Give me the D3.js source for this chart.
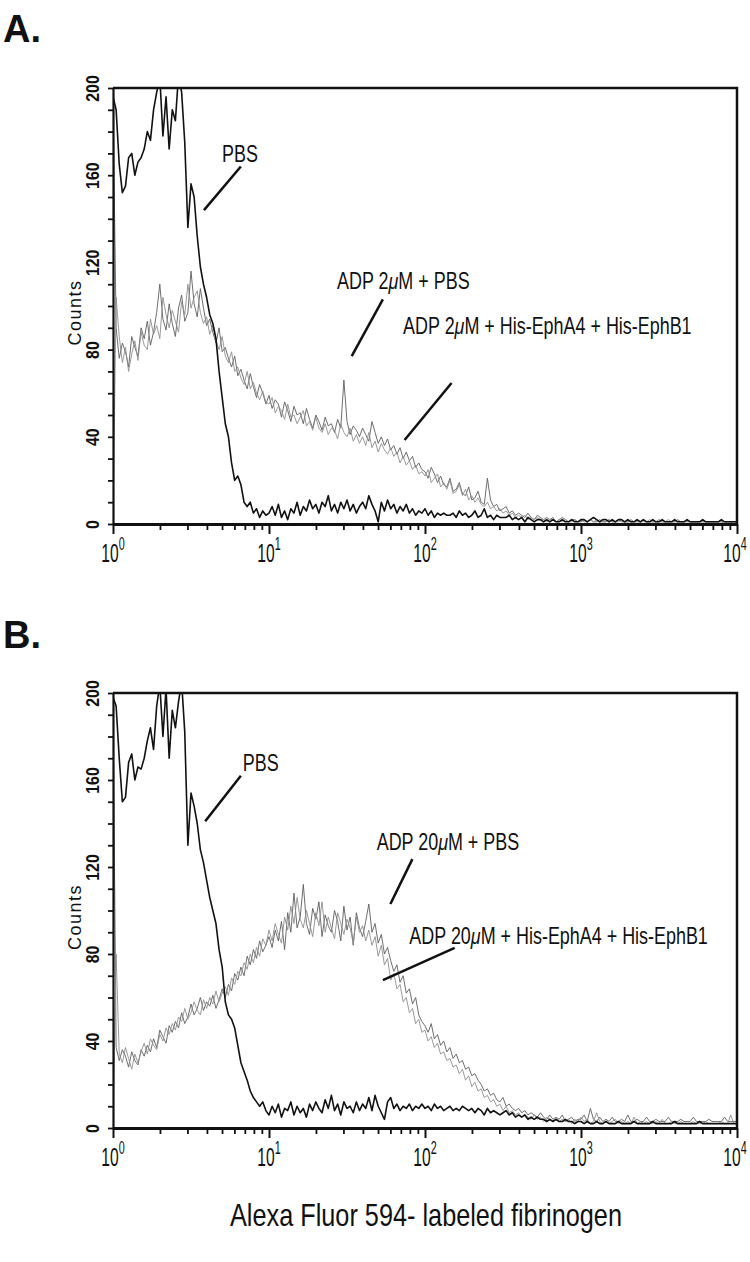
<!DOCTYPE html>
<html>
<head>
<meta charset="utf-8" />
<title>Fibrinogen binding histograms</title>
<script src="https://d3js.org/d3.v7.min.js"></script>
<style>
  body { margin: 0; background: #fff; }
  svg text { font-family: "Liberation Sans", Arial, sans-serif; fill: #111; }
</style>
</head>
<body>
<svg id="svg1" width="750" height="1262"></svg>
<script>
// histogram channels: one value every 0.02 decade, from 10^0 to 10^4
var logStep = 0.02;
var yTicks = d3.range(0, 201, 10);
var yLabels = [0, 40, 80, 120, 160, 200];
var decades = [1, 10, 100, 1000, 10000];

// panel A
var aPBS = [196,190,165,152,155,168,170,160,166,168, 172,180,176,190,198,205,178,196,172,190,
  185,206,198,175,136,156,150,132,118,110, 104,96,92,85,70,58,46,40,28,20,
  22,18,10,8,10,5,7,3,6,4,
  5,8,4,9,3,6,2,7,5,10, 4,8,6,11,7,9,5,10,8,13, 6,9,5,10,7,11,6,9,5,8,
  10,7,13,9,6,1,10,6,11,7, 9,5,8,6,9,5,7,4,6,5,
  7,4,6,3,5,4,5,4,4,5, 3,6,4,5,3,4,6,3,4,7, 3,4,2,4,3,3,3,4,2,3,
  2,3,1,3,2,1,2,2,1,2, 1,2,1,1,2,1,1,2,1,1,
  2,2,1,2,3,2,1,2,2,1, 2,1,2,2,1,2,1,1,2,1, 2,1,1,2,1,1,2,1,1,1,
  2,1,1,1,2,1,1,1,1,2, 1,1,1,1,1,2,1,1,1,1, 1];
var aADP = [196,90,76,83,79,72,86,81,77,90, 85,93,82,88,97,110,94,89,101,92,
  86,99,105,93,97,116,101,95,108,99, 91,94,88,83,90,79,81,76,72,77,
  68,71,66,62,69,63,58,64,60,55,
  59,53,57,55,49,56,52,47,54,50, 51,46,53,48,44,50,47,43,49,45, 46,42,48,44,66,47,41,45,43,40,
  44,41,38,47,42,37,40,36,39,34, 36,32,35,30,33,29,31,26,28,25,
  24,21,26,23,19,22,18,17,21,15, 16,19,14,13,17,11,12,15,10,9, 21,11,8,9,6,7,8,5,6,4,
  5,4,3,5,3,2,4,3,2,3, 2,3,1,2,3,2,1,2,2,1,
  1,2,1,2,1,1,2,1,1,2, 1,1,2,1,1,1,2,1,1,1, 2,1,1,1,1,2,1,1,1,1,
  1,2,1,1,1,1,1,1,1,1, 1,1,1,1,1,1,0,1,1,0, 0];
var aEph = [0,104,86,74,81,70,78,84,75,88, 82,80,94,87,91,85,104,96,90,98,
  93,88,102,96,110,99,104,107,97,92, 95,87,91,84,80,86,77,74,79,70,
  72,67,64,70,62,65,60,57,61,56,
  55,58,51,54,52,48,55,49,50,46, 49,52,45,47,43,49,44,42,46,41, 44,43,39,46,42,40,44,38,41,37,
  40,36,42,35,38,33,37,34,32,35, 31,33,28,31,27,29,25,27,23,24,
  22,25,19,21,23,17,19,16,20,14, 15,18,13,16,11,13,10,12,9,8, 10,7,8,6,7,5,6,4,5,3,
  4,3,4,2,3,2,3,2,2,1, 2,2,1,2,1,2,1,1,2,1,
  2,1,1,2,1,2,1,1,1,2, 1,1,1,2,1,1,1,1,2,1, 1,1,2,1,1,1,1,1,2,1,
  1,1,1,1,2,1,1,1,1,1, 1,1,1,1,1,1,1,0,1,1, 0];

// panel B
var bPBS = [198,194,170,150,152,168,172,160,166,165, 170,178,184,174,194,204,180,202,170,192,
  184,196,205,182,130,154,148,140,128,122, 114,106,100,94,82,74,58,52,50,46,
  38,30,26,22,17,14,12,10,12,8,
  6,10,7,11,5,9,8,12,6,10, 7,9,5,11,8,12,9,7,13,9, 15,8,11,6,12,9,10,7,12,8,
  11,9,14,8,15,10,7,4,12,14, 9,11,8,10,9,11,8,10,9,11,
  9,10,8,11,9,10,8,9,10,8, 9,8,10,9,8,9,7,9,8,6, 9,7,8,7,6,7,8,6,7,5,
  6,5,6,4,5,4,5,4,4,3, 4,3,4,3,3,4,3,3,2,3,
  3,2,3,2,2,3,2,2,3,2, 2,2,3,2,2,2,2,3,2,2, 2,2,2,3,2,2,2,2,2,2,
  3,2,2,2,2,2,2,2,3,2, 2,2,2,2,2,2,2,2,2,2, 2];
var bADP = [196,37,31,36,33,28,35,31,29,36, 33,38,35,41,37,45,42,39,47,44,
  49,46,53,48,51,57,52,55,60,54, 58,56,61,55,59,64,60,66,63,71,
  68,74,70,79,75,82,78,86,81,84,
  88,83,91,86,95,82,99,90,108,92, 97,112,94,89,101,96,104,88,98,93, 90,100,95,86,102,91,97,84,99,92,
  88,95,103,90,94,85,89,80,83,77, 72,75,67,70,62,64,57,60,52,49,
  47,44,48,41,43,38,40,35,37,32, 34,30,31,27,28,24,25,22,20,17, 18,15,16,13,12,14,10,11,9,8,
  9,7,8,6,7,6,5,7,5,4, 6,4,5,4,6,3,4,5,3,4,
  4,6,3,9,4,3,5,3,4,3, 5,3,3,4,3,6,3,3,4,3, 3,5,3,3,4,3,3,3,5,3,
  3,3,4,3,3,3,5,3,3,3, 3,4,3,3,3,3,5,3,3,3, 3];
var bEph = [0,80,34,30,37,32,27,34,30,35, 39,34,41,38,36,43,40,46,43,48,
  45,51,49,55,50,53,58,54,52,59, 55,60,57,63,58,62,65,61,69,66,
  72,70,76,73,80,76,83,79,87,84,
  91,86,94,89,85,97,91,102,94,106, 96,92,100,94,88,99,93,104,90,97, 92,87,99,94,89,96,92,85,97,90,
  93,86,91,84,88,79,84,75,78,68, 71,64,66,58,60,53,55,48,50,44,
  45,40,42,37,39,34,35,31,32,28, 29,25,27,22,24,19,21,17,18,14, 15,12,13,10,11,8,10,7,8,6,
  7,5,6,5,4,6,4,5,3,5, 4,3,5,3,4,3,4,2,4,3,
  5,3,4,2,3,7,3,2,3,2, 3,4,2,3,2,3,2,5,2,3, 2,3,2,2,3,2,4,2,2,3,
  2,2,3,2,2,2,3,2,2,2, 3,2,2,2,2,3,2,2,6,2, 2];

// labels: [text parts], position of text and of its leader line in data units
var notesA = [
  {parts: ["PBS"], tx: 5.0, ty: 166, from: [6.6, 164], to: [3.83, 144]},
  {parts: ["ADP 2", "\u03bc", "M + PBS"], tx: 27.3, ty: 108, from: [53.7, 103], to: [33.9, 77]},
  {parts: ["ADP 2", "\u03bc", "M + His-EphA4 + His-EphB1"], tx: 72.4, ty: 87, from: [148, 64.7], to: [74, 38.5]}
];
var notesB = [
  {parts: ["PBS"], tx: 6.8, ty: 164, from: [6.6, 162], to: [3.9, 141]},
  {parts: ["ADP 20", "\u03bc", "M + PBS"], tx: 49, ty: 128, from: [83, 123.6], to: [60, 103]},
  {parts: ["ADP 20", "\u03bc", "M + His-EphA4 + His-EphB1"], tx: 79.4, ty: 84.6, from: [155, 82.8], to: [53.7, 68]}
];

var panels = [
  {letter: "A.", letterY: 42, top: 88, bottom: 524, notes: notesA,
   series: [{v: aADP, c: "#5e5e5e", w: 0.9}, {v: aEph, c: "#8e8e8e", w: 0.9}, {v: aPBS, c: "#111", w: 1.6}]},
  {letter: "B.", letterY: 648, top: 693, bottom: 1128, notes: notesB,
   series: [{v: bADP, c: "#5e5e5e", w: 0.9}, {v: bEph, c: "#8e8e8e", w: 0.9}, {v: bPBS, c: "#111", w: 1.6}]}
];

var svg = d3.select("#svg1");
var left = 113, right = 737;
var narrow = 0.78;   // condensed type, like the original figure
var x = d3.scaleLog().domain([1, 10000]).range([left, right]);
var minor = [];
decades.slice(0, 4).forEach(function(d) {
  for (var m = 2; m <= 9; m++) minor.push(d * m);
});

panels.forEach(function(p, k) {
  var y = d3.scaleLinear().domain([0, 200]).range([p.bottom, p.top]);
  var g = svg.append("g");

  g.append("text").attr("x", 3).attr("y", p.letterY)
    .style("font-size", "38px").style("font-weight", "bold").text(p.letter);

  var clipId = "clip" + k;
  svg.append("clipPath").attr("id", clipId).append("rect")
    .attr("x", left).attr("y", p.top).attr("width", right - left).attr("height", p.bottom - p.top);

  var line = d3.line()
    .x(function(d, i) { return x(Math.pow(10, i * logStep)); })
    .y(function(d) { return y(d); });

  g.append("g").attr("clip-path", "url(#" + clipId + ")")
    .selectAll("path").data(p.series).enter().append("path")
    .attr("d", function(s) { return line(s.v); })
    .attr("fill", "none")
    .attr("stroke", function(s) { return s.c; })
    .attr("stroke-width", function(s) { return s.w; })
    .attr("stroke-linejoin", "round");

  // frame top + right
  g.append("path")
    .attr("d", "M" + left + "," + p.top + "H" + right + "V" + p.bottom)
    .attr("fill", "none").attr("stroke", "#111").attr("stroke-width", 2.5);

  // y axis
  var ya = g.append("g").attr("transform", "translate(" + left + ",0)")
    .call(d3.axisLeft(y).tickValues(yTicks).tickSize(5).tickSizeOuter(0)
      .tickFormat(function(d) { return yLabels.indexOf(d) >= 0 ? d : ""; }));
  ya.attr("font-size", null).attr("font-family", null);
  ya.select(".domain").attr("stroke", "#111").attr("stroke-width", 2.2);
  ya.selectAll(".tick line").attr("stroke", "#111").attr("stroke-width", 1.8);
  ya.selectAll(".tick text")
    .attr("transform", "rotate(-90) scale(0.88,1)").attr("x", 0).attr("y", -14).attr("dy", 0)
    .attr("text-anchor", "middle").attr("fill", "#111")
    .style("font-size", "18px").style("font-weight", "bold");

  g.append("text")
    .attr("transform", "translate(81," + y(97) + ") rotate(-90)")
    .attr("text-anchor", "middle")
    .style("font-size", "18px").style("letter-spacing", "1.5px").text("Counts");

  // x axis
  var xa = g.append("g").attr("transform", "translate(0," + p.bottom + ")")
    .call(d3.axisBottom(x).tickValues(minor).tickSize(6).tickSizeOuter(0).tickFormat(""));
  xa.select(".domain").attr("stroke", "#111").attr("stroke-width", 2.8);
  xa.selectAll(".tick line").attr("stroke", "#111").attr("stroke-width", 1.8);
  var xb = g.append("g").attr("transform", "translate(0," + p.bottom + ")")
    .call(d3.axisBottom(x).tickValues(decades).tickSize(10).tickSizeOuter(0).tickFormat(""));
  xb.select(".domain").remove();
  xb.selectAll(".tick line").attr("stroke", "#111").attr("stroke-width", 2);

  var lab = g.selectAll(".dec").data(decades).enter().append("text")
    .attr("transform", function(d) {
      var cx = Math.min(x(d), 735);
      return "translate(" + cx + "," + (p.bottom + 38) + ") scale(0.6,1)";
    })
    .attr("text-anchor", "middle")
    .style("font-size", "26px");
  lab.append("tspan").text("10");
  lab.append("tspan").attr("dy", -12).style("font-size", "18px")
    .text(function(d) { return Math.round(Math.log10(d)); });

  // labels with leader lines
  p.notes.forEach(function(n) {
    g.append("line")
      .attr("x1", x(n.from[0])).attr("y1", y(n.from[1]))
      .attr("x2", x(n.to[0])).attr("y2", y(n.to[1]))
      .attr("stroke", "#111").attr("stroke-width", 2.5);
    var t = g.append("text")
      .attr("transform", "translate(" + x(n.tx) + "," + y(n.ty) + ") scale(" + narrow + ",1)")
      .style("font-size", "23px");
    n.parts.forEach(function(s, j) {
      var sp = t.append("tspan").text(s);
      if (j === 1) sp.style("font-style", "italic");
    });
  });
});

svg.append("text")
  .attr("transform", "translate(426,1226) scale(0.79,1)")
  .attr("text-anchor", "middle")
  .style("font-size", "32px").text("Alexa Fluor 594- labeled fibrinogen");
</script>
</body>
</html>
